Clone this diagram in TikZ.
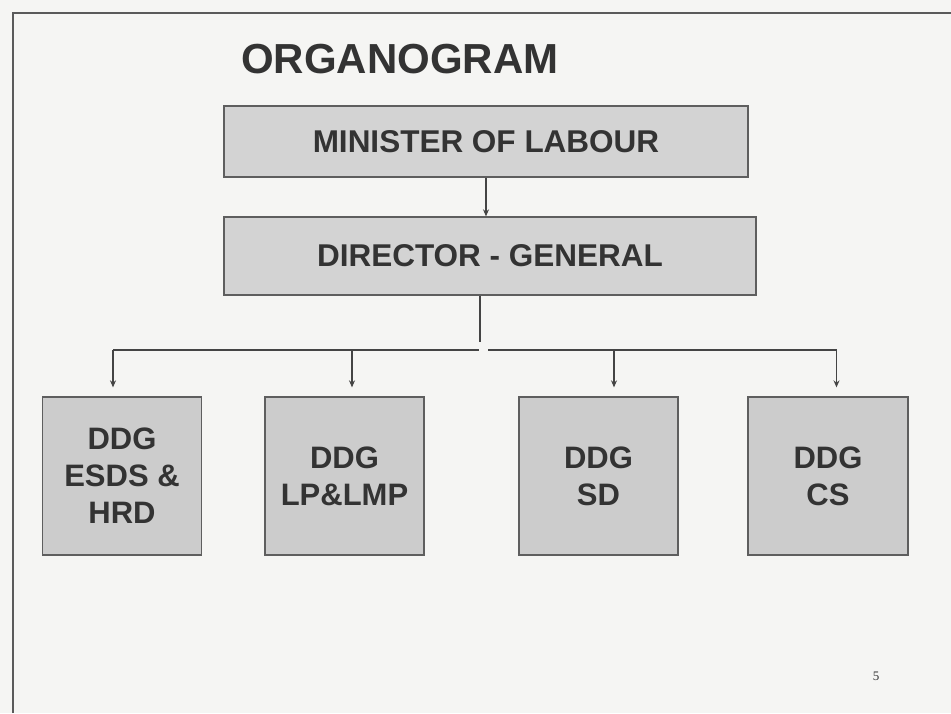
\documentclass[tikz,border=0pt]{standalone}
\usepackage{fontspec}
\setmainfont{Liberation Sans}
\newfontfamily\serifnum{Liberation Serif}
\usetikzlibrary{arrows.meta}
\definecolor{bg}{HTML}{F5F5F3}
\definecolor{frame}{HTML}{5A5A5A}
\definecolor{boxfillA}{HTML}{D3D3D3}
\definecolor{boxfillB}{HTML}{CCCCCC}
\definecolor{boxline}{HTML}{5E5E5E}
\definecolor{ink}{HTML}{333333}
\definecolor{conn}{HTML}{444444}
\begin{document}
\begin{tikzpicture}[x=1pt,y=-1pt,
  topbox/.style={draw=boxline,line width=1.3pt,fill=boxfillA,text=ink,
    font=\bfseries\fontsize{31.5}{36}\selectfont,inner sep=0pt,anchor=center},
  ddgbox/.style={draw=boxline,line width=1.3pt,fill=boxfillB,text=ink,
    font=\bfseries\fontsize{31}{37}\selectfont,align=center,inner sep=0pt,
    minimum width=159pt,minimum height=158pt,anchor=center},
  link/.style={draw=conn,line width=1.5pt},
  arr/.style={link,-{Stealth[length=7pt,width=6pt]}},
]
\useasboundingbox (0,0) rectangle (951,713);
\fill[bg] (0,0) rectangle (951,713);
\draw[frame,line width=2pt] (12.5,713) -- (12.5,13) -- (951,13);

\node[anchor=base west,text=ink,font=\bfseries\fontsize{42}{48}\selectfont,inner sep=0pt] (title) at (241,73.5) {ORGANOGRAM};

\node[topbox,minimum width=524pt,minimum height=71pt] (min) at (486,141.5) {MINISTER OF LABOUR};
\node[topbox,minimum width=532pt,minimum height=78pt] (dg) at (490,256) {DIRECTOR - GENERAL};

\node[ddgbox] (b1) at (122,476) {DDG\\ESDS \&\\HRD};
\node[ddgbox] (b2) at (344.5,476) {DDG\\LP\&LMP};
\node[ddgbox] (b3) at (598.5,476) {DDG\\SD};
\node[ddgbox,minimum width=160pt] (b4) at (828,476) {DDG\\CS};

\node[anchor=center,text=ink,font=\serifnum\fontsize{13}{15}\selectfont,inner sep=0pt] (pg) at (876,676) {5};

% connectors
\draw[arr] (min.south) -- (min.south |- dg.north);
\coordinate (j) at (480,342);
\draw[link] (dg.south -| j) -- (j);
\coordinate (a1) at (113,350);
\coordinate (a2) at (352,350);
\coordinate (gl) at (479,350);
\coordinate (gr) at (488,350);
\coordinate (a3) at (614,350);
\coordinate (a4) at (836.5,350);
\draw[link] (a1) -- (gl);
\draw[link] (gr) -- (a4);
\draw[arr,shorten >=9pt] (a1) -- (a1 |- b1.north);
\draw[arr,shorten >=9pt] (a2) -- (a2 |- b2.north);
\draw[arr,shorten >=9pt] (a3) -- (a3 |- b3.north);
\draw[arr,shorten >=9pt] (a4) -- (a4 |- b4.north);
\end{tikzpicture}
\end{document}
